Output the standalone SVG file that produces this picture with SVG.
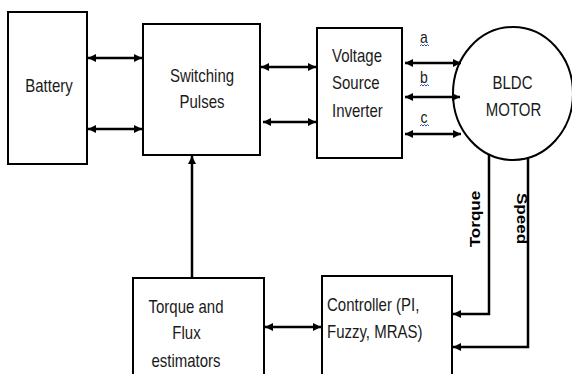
<svg xmlns="http://www.w3.org/2000/svg" width="572" height="374" viewBox="0 0 572 374">
<style>
.box{fill:#fff;stroke:#000;stroke-width:2}
.t{font-family:"Liberation Sans",Arial,sans-serif;font-size:15px;fill:#1a1a1a}
.m{text-anchor:middle}
.lb{font-family:"Liberation Sans",Arial,sans-serif;font-size:14px;fill:#1a1a1a;text-anchor:middle}
.bl{font-family:"Liberation Sans",Arial,sans-serif;font-size:14px;font-weight:bold;fill:#000;text-anchor:middle}
.c{fill:none;stroke:#000;stroke-width:2.5}
.sq{fill:none;stroke:#3050d0;stroke-width:1}
</style>
<defs>
<marker id="ah" viewBox="0 0 8 8" refX="8" refY="4" markerWidth="8" markerHeight="8" markerUnits="userSpaceOnUse" orient="auto-start-reverse">
<path d="M0,0 L8,4 L0,8 z" fill="#000"/>
</marker>
</defs>
<rect width="572" height="374" fill="#fff"/>

<g id="battery">
<rect class="box" x="8" y="12" width="79" height="152"/>
<text class="t m" transform="translate(49,91.5) scale(1,1.2)">Battery</text>
</g>

<g id="switching">
<rect class="box" x="143" y="24" width="117" height="131"/>
<text class="t m" transform="translate(202,82) scale(1,1.2)">Switching</text>
<text class="t m" transform="translate(202,108) scale(1,1.2)">Pulses</text>
</g>

<g id="vsi">
<rect class="box" x="317" y="28" width="85" height="130"/>
<text class="t" transform="translate(332,62) scale(1,1.2)">Voltage</text>
<text class="t" transform="translate(332,89) scale(1,1.2)">Source</text>
<text class="t" transform="translate(332,116.5) scale(1,1.2)">Inverter</text>
</g>

<g id="motor">
<ellipse cx="513" cy="93.5" rx="60" ry="66.5" fill="#fff" stroke="#000" stroke-width="2"/>
<text class="t m" transform="translate(512.5,88.5) scale(1,1.2)">BLDC</text>
<text class="t m" transform="translate(513.5,116) scale(1,1.2)">MOTOR</text>
</g>

<g id="estimators">
<rect class="box" x="133" y="278" width="131" height="110"/>
<text class="t m" transform="translate(186,312.5) scale(1,1.2)">Torque and</text>
<text class="t m" transform="translate(186.5,339) scale(1,1.2)">Flux</text>
<text class="t m" transform="translate(186,367) scale(1,1.2)">estimators</text>
</g>

<g id="controller">
<rect class="box" x="322" y="276" width="130" height="112"/>
<text class="t" transform="translate(327,310.5) scale(1,1.2)">Controller (PI,</text>
<text class="t" transform="translate(327,337.5) scale(1,1.2)">Fuzzy, MRAS)</text>
</g>

<g id="connectors">
<line class="c" x1="88" y1="58" x2="142" y2="58" marker-start="url(#ah)" marker-end="url(#ah)"/>
<line class="c" x1="88" y1="129" x2="142" y2="129" marker-start="url(#ah)" marker-end="url(#ah)"/>
<line class="c" x1="261" y1="67" x2="316" y2="67" marker-start="url(#ah)" marker-end="url(#ah)"/>
<line class="c" x1="263" y1="122" x2="316" y2="122" marker-start="url(#ah)" marker-end="url(#ah)"/>
<line class="c" x1="405" y1="63" x2="461" y2="63" marker-start="url(#ah)" marker-end="url(#ah)"/>
<line class="c" x1="405" y1="97" x2="460" y2="97" marker-start="url(#ah)" marker-end="url(#ah)"/>
<line class="c" x1="405" y1="134" x2="461" y2="134" marker-start="url(#ah)" marker-end="url(#ah)"/>
<line class="c" x1="192" y1="278" x2="192" y2="156" marker-end="url(#ah)"/>
<line class="c" x1="265" y1="327" x2="321" y2="327" marker-start="url(#ah)" marker-end="url(#ah)"/>
<polyline class="c" points="489,154 489,314 453,314" stroke-width="3" marker-end="url(#ah)"/>
<polyline class="c" points="528,158 528,347 453,347" stroke-width="3" marker-end="url(#ah)"/>
<text class="lb" transform="translate(424,43) scale(1,1.2)">a</text>
<text class="lb" transform="translate(424,82.5) scale(1,1.2)">b</text>
<text class="lb" transform="translate(424,123) scale(1,1.2)">c</text>
<path class="sq" d="M420,46 l1.5,-1.5 l1.5,1.5 l1.5,-1.5 l1.5,1.5 l1.5,-1.5 l1.5,1.5"/>
<path class="sq" d="M420,86 l1.5,-1.5 l1.5,1.5 l1.5,-1.5 l1.5,1.5 l1.5,-1.5 l1.5,1.5"/>
<path class="sq" d="M420,126 l1.5,-1.5 l1.5,1.5 l1.5,-1.5 l1.5,1.5 l1.5,-1.5 l1.5,1.5"/>
<text class="bl" transform="translate(480,219) scale(1,1.22) rotate(-90)">Torque</text>
<text class="bl" transform="translate(517,218.5) scale(1,1.22) rotate(90)">Speed</text>
</g>
</svg>
